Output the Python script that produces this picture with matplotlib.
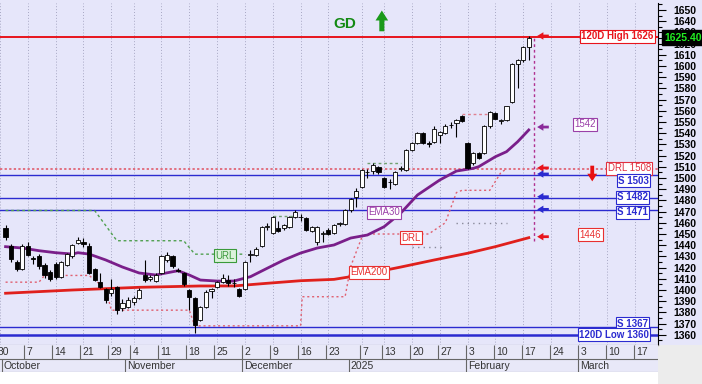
import matplotlib
matplotlib.use('Agg')
import matplotlib.pyplot as plt
import matplotlib.transforms as mtransforms
from matplotlib.patches import Rectangle
from matplotlib.ticker import MultipleLocator
import numpy as np

plt.rcParams['font.family'] = ['Liberation Sans', 'DejaVu Sans']

# trading-day index (0 = 30 Sep 2024), one candle per day
day = list(range(1, 96))
opn = [1455, 1439, 1425, 1419, 1439, 1429, 1430, 1422, 1416, 1423,
       1412, 1422, 1430, 1442, 1443, 1439, 1419, 1407, 1401, 1397,
       1403, 1384, 1385, 1389, 1393, 1413, 1410, 1408, 1415, 1427,
       1430, 1418, 1415, 1400, 1393, 1373, 1385, 1399, 1403, 1407,
       1409, 1406, 1401, 1401, 1431, 1431, 1439, 1456, 1451, 1455,
       1455, 1456, 1465, 1465, 1464, 1453, 1443, 1450, 1454, 1451,
       1459, 1459, 1471, 1483, 1492, 1505, 1506, 1510, 1500, 1496,
       1495, 1508, 1507, 1525, 1531, 1540, 1531, 1532, 1538, 1540,
       1547, 1549, 1555, 1531, 1513, 1522, 1522, 1546, 1558, 1551,
       1552, 1568, 1602, 1605, 1617]
high = [1458, 1441, 1427, 1441, 1443, 1430, 1432, 1424, 1418, 1425,
        1426, 1433, 1441, 1447, 1446, 1442, 1420, 1415, 1402, 1410,
        1404, 1392, 1394, 1395, 1402, 1427, 1413, 1415, 1431, 1434,
        1431, 1420, 1416, 1401, 1394, 1386, 1400, 1402, 1408, 1414,
        1413, 1410, 1402, 1426, 1436, 1438, 1457, 1460, 1466, 1462,
        1459, 1466, 1471, 1468, 1465, 1457, 1457, 1453, 1455, 1459,
        1461, 1472, 1482, 1491, 1508, 1508, 1513, 1511, 1501, 1499,
        1506, 1511, 1526, 1532, 1541, 1541, 1533, 1546, 1542, 1548,
        1550, 1553, 1556, 1532, 1523, 1523, 1547, 1560, 1559, 1553,
        1564, 1603, 1606, 1618, 1627]
low = [1445, 1425, 1417, 1418, 1430, 1423, 1419, 1411, 1408, 1410,
       1411, 1421, 1429, 1441, 1438, 1414, 1408, 1402, 1388, 1395,
       1379, 1381, 1384, 1387, 1392, 1407, 1408, 1407, 1414, 1425,
       1420, 1416, 1404, 1382, 1362, 1372, 1384, 1393, 1402, 1406,
       1404, 1403, 1394, 1400, 1425, 1430, 1438, 1454, 1450, 1452,
       1454, 1455, 1464, 1462, 1453, 1452, 1440, 1443, 1449, 1450,
       1457, 1458, 1470, 1474, 1491, 1500, 1504, 1504, 1491, 1490,
       1494, 1506, 1506, 1524, 1530, 1530, 1528, 1531, 1531, 1539,
       1545, 1537, 1550, 1508, 1512, 1517, 1521, 1545, 1553, 1548,
       1551, 1567, 1580, 1604, 1605]
close = [1447, 1428, 1419, 1439, 1431, 1428, 1421, 1413, 1410, 1412,
         1425, 1432, 1440, 1445, 1441, 1415, 1409, 1403, 1391, 1401,
         1382, 1388, 1391, 1393, 1400, 1409, 1412, 1413, 1430, 1431,
         1421, 1417, 1405, 1394, 1369, 1385, 1398, 1401, 1407, 1411,
         1406, 1406, 1395, 1425, 1432, 1437, 1456, 1457, 1465, 1453,
         1458, 1465, 1470, 1465, 1454, 1456, 1456, 1450, 1450, 1458,
         1459, 1471, 1481, 1488, 1507, 1505, 1512, 1505, 1492, 1496,
         1505, 1509, 1525, 1531, 1540, 1531, 1530, 1544, 1541, 1546,
         1547, 1552, 1551, 1509, 1522, 1518, 1546, 1559, 1553, 1551,
         1564, 1602, 1605, 1617, 1625.4]

ema30_x = [1, 4, 7, 10, 13, 14, 16, 19, 22, 25, 28, 31, 32, 34, 36, 39, 42, 45,
           48, 51, 54, 57, 60, 63, 66, 69, 72, 75, 79, 82, 85, 86, 89, 91, 93, 95]
ema30 = [1438.7, 1437.5, 1435.1, 1433.3, 1432.1, 1433.3, 1432.1, 1426.8, 1420.5,
         1415.2, 1413.4, 1416.3, 1417.2, 1413.4, 1408.9, 1408.0, 1408.0, 1411.9,
         1419.4, 1426.8, 1433.0, 1437.5, 1440.2, 1446.4, 1449.1, 1456.5, 1468.7,
         1484.8, 1498.2, 1506.2, 1508.6, 1510.1, 1519.0, 1523.5, 1532.4, 1542.9]
ema200_x = [1, 13, 25, 36, 42, 48, 54, 60, 63, 66, 72, 78, 84, 89, 95]
ema200 = [1397.1, 1400.0, 1402.4, 1403.6, 1403.6, 1406.0, 1408.3, 1409.5,
          1411.9, 1414.5, 1420.5, 1426.8, 1432.8, 1438.7, 1446.7]

drl_x = [1, 7, 8, 16, 19, 20, 34, 35, 54, 54.3, 62, 63, 65, 66, 77, 80, 82, 83, 88, 90, 91]
drl = [1407, 1407, 1413, 1413, 1401, 1382, 1382, 1368, 1368, 1394, 1394, 1421,
       1447, 1450, 1450, 1460, 1487, 1489, 1489, 1505, 1508]
url_x = [1, 17, 21, 33, 35, 44]
url = [1471, 1471, 1444, 1444, 1432, 1432]

# support / resistance levels: (value, label, colour)
levels = [(1626, '120D High 1626', '#e8141c'), (1508, 'DRL 1508', '#e05060'),
          (1503, 'S 1503', '#2b2bd0'), (1482, 'S 1482', '#2b2bd0'),
          (1471, 'S 1471', '#2b2bd0'), (1367, 'S 1367', '#2b2bd0'),
          (1360, '120D Low 1360', '#2b2bd0')]

week_idx = [0, 5, 10, 15, 20, 24, 29, 34, 39, 44, 49, 54, 59, 65, 69, 74, 79, 84,
            89, 94, 99, 104, 109, 114]
week_lbl = ['30', '7', '14', '21', '29', '4', '11', '18', '25', '2', '9', '16', '23',
            '7', '13', '20', '27', '3', '10', '17', '24', '3', '10', '17']
month_idx = [1, 23, 44, 63, 84, 104]
month_lbl = ['October', 'November', 'December', '2025', 'February', 'March']

BG = '#e6e6fa'
RED = '#e8141c'
BLUE = '#2b2bd0'
PURPLE = '#7a1f8a'

fig = plt.figure(figsize=(7.02, 3.84), dpi=100, facecolor=BG)
fig.add_artist(Rectangle((0, 0), 1, 12 / 384, transform=fig.transFigure,
                         fc='white', ec='none', zorder=-2))
fig.add_artist(Rectangle((658 / 702, 0), 44 / 702, 39 / 384, transform=fig.transFigure,
                         fc='#ececec', ec='none', zorder=-1))

ax = fig.add_axes([0, 39 / 384, 658 / 702, 342 / 384])
ax.set_facecolor(BG)
xlim = (4 / 5.6, 662 / 5.6)
ax.set_xlim(*xlim)
ax.set_ylim(1350.9, 1656.25)

ax.set_xticks(week_idx)
ax.tick_params(axis='x', length=0, labelbottom=False)
ax.grid(axis='x', color='#a8a8c4', ls=(0, (1, 2)), lw=0.7)
ax.set_axisbelow(True)

ax.yaxis.tick_right()
ax.set_yticks(np.arange(1360, 1651, 10))
ax.yaxis.set_minor_locator(MultipleLocator(5))
ax.tick_params(axis='y', which='major', length=6, width=0.8, pad=5, labelsize=7.5)
ax.tick_params(axis='y', which='minor', length=3, width=0.8)
for t in ax.get_yticklabels():
    t.set_fontweight('bold')
for s in ['top', 'left']:
    ax.spines[s].set_visible(False)
ax.spines['bottom'].set_color('#777777')
ax.spines['right'].set_color('black')

# level lines
for v, lbl, c in levels:
    if lbl.startswith('DRL'):
        ax.axhline(v, color=c, lw=1.1, ls=(0, (1.5, 1.5)), zorder=2)
    elif lbl.startswith('120D Low'):
        ax.axhline(v, color=c, lw=1.8, zorder=2)
    elif lbl.startswith('120D High'):
        ax.axhline(v, color=c, lw=1.4, zorder=2)
    else:
        ax.axhline(v, color=c, lw=1.0, zorder=2)

# indicator lines
ax.plot(drl_x, drl, color='#e06070', lw=1.0, ls=(0, (1.5, 2)), zorder=2)
ax.plot(url_x, url, color='#50a050', lw=1.0, ls=(0, (2, 2)), zorder=2)
ax.plot([49, 53], [1466, 1466], color='#70a070', lw=1.0, ls=(0, (2, 2)), zorder=2)
ax.plot([66, 72], [1513, 1513], color='#70a070', lw=1.0, ls=(0, (2, 2)), zorder=2)
ax.plot([83, 88], [1557, 1557], color='#e08090', lw=1.0, ls=(0, (2, 2)), zorder=2)
ax.plot([74, 80], [1438, 1438], color='#8a8a9a', lw=1.0, ls=(0, (1, 3)), zorder=2)
ax.plot([82, 91], [1460, 1460], color='#8a8a9a', lw=1.0, ls=(0, (1, 3)), zorder=2)
ax.plot(ema200_x, ema200, color='#e0201c', lw=2.0, zorder=3)
ax.plot(ema30_x, ema30, color=PURPLE, lw=2.0, zorder=3)

# candles
ax.vlines(day, low, high, color='black', lw=0.8, zorder=4)
bottoms = [min(o, c) for o, c in zip(opn, close)]
heights = [max(abs(c - o), 0.5) for o, c in zip(opn, close)]
fills = ['white' if c >= o else 'black' for o, c in zip(opn, close)]
ax.bar(day, heights, bottom=bottoms, width=0.75, color=fills, edgecolor='black',
       lw=0.6, zorder=5)

ax.vlines(95.9, 1444, 1626.8, colors='#b03090', linestyles=(0, (2, 2)), lw=1.0, zorder=3)

blend = mtransforms.blended_transform_factory(ax.transAxes, ax.transData)


def tag(x, y, s, color, ha='center', bold=False, fc='white', trans=None, size=7):
    ax.text(x, y, s, color=color, fontsize=size, fontweight='bold' if bold else 'normal',
            ha=ha, va='center', transform=trans or ax.transData, zorder=8,
            bbox=dict(boxstyle='square,pad=0.15', fc=fc, ec=color, lw=0.8))


# right side level tags
tag(653.5 / 658, 1626.7, '120D High 1626', RED, ha='right', bold=True, trans=blend)
tag(651 / 658, 1508.7, 'DRL 1508', '#e03040', ha='right', trans=blend)
tag(649 / 658, 1497.6, 'S 1503', BLUE, ha='right', bold=True, trans=blend)
tag(648 / 658, 1483, 'S 1482', BLUE, ha='right', bold=True, trans=blend)
tag(648 / 658, 1469.6, 'S 1471', BLUE, ha='right', bold=True, trans=blend)
tag(648 / 658, 1370, 'S 1367', BLUE, ha='right', bold=True, trans=blend)
tag(649 / 658, 1360, '120D Low 1360', BLUE, ha='right', bold=True, trans=blend)
tag(105.1, 1547.8, '1542', '#9a40a8')
tag(106.1, 1449.5, '1446', '#e83030')

# line name tags
tag(69, 1469.6, 'EMA30', '#9a40a8')
tag(66.3, 1416, 'EMA200', '#e83030')
tag(73.9, 1446.7, 'DRL', '#e83030')
tag(40.4, 1430.4, 'URL', '#3a9a3a', fc='#dcf2dc')

# small arrows pointing at the levels
for v, c in [(1626.8, RED), (1545.5, '#8a2a9a'), (1509, RED), (1503.6, BLUE),
             (1483.3, BLUE), (1472, BLUE), (1447.6, RED)]:
    ax.annotate('', xy=(96.5, v), xytext=(98.6, v),
                arrowprops=dict(arrowstyle='simple,head_width=0.6,head_length=0.5,tail_width=0.22',
                                color=c, lw=0, mutation_scale=9, shrinkA=0, shrinkB=0),
                zorder=7)

# signal marks
ax.text(62, 1637.5, 'GD', color='#138a13', fontsize=11, fontweight='bold',
        ha='center', va='center')
ax.annotate('', xy=(68.6, 1649.5), xytext=(68.6, 1631),
            arrowprops=dict(arrowstyle='simple,head_width=0.7,head_length=0.55,tail_width=0.28',
                            color='#1a9a1a', lw=0, mutation_scale=13, shrinkA=0, shrinkB=0))
ax.annotate('', xy=(106.4, 1497), xytext=(106.4, 1511),
            arrowprops=dict(arrowstyle='simple,head_width=0.65,head_length=0.5,tail_width=0.25',
                            color='#e81010', lw=0, mutation_scale=11, shrinkA=0, shrinkB=0))

# last price on the axis
ax.text(1.009, 1625.4, '1625.40', transform=blend, color='#22ee22', fontsize=7.5,
        fontweight='bold', ha='left', va='center', zorder=10, clip_on=False,
        bbox=dict(boxstyle='square,pad=0.2', fc='black', ec='black'))

# date strip
axd = fig.add_axes([0, 12 / 384, 658 / 702, 27 / 384])
axd.set_facecolor('#e8e8f8')
axd.set_xlim(*xlim)
axd.set_ylim(0, 2)
axd.set_xticks([])
axd.set_yticks([])
for s in axd.spines.values():
    s.set_visible(False)
axd.axhline(1, color='#666666', lw=0.8)
axd.axhline(0.02, color='#888888', lw=0.8)
axd.vlines(week_idx, 1, 2, colors='#666666', lw=0.8)
axd.vlines(month_idx, 0, 1, colors='#666666', lw=0.8)
for i, s in zip(week_idx, week_lbl):
    axd.text(i + 0.35, 1.45, s, fontsize=7.5, color='#333333', ha='left', va='center')
for i, s in zip(month_idx, month_lbl):
    axd.text(i + 0.35, 0.45, s, fontsize=7.5, color='#333333', ha='left', va='center')

fig.savefig('out.png', dpi=100, facecolor=fig.get_facecolor())
